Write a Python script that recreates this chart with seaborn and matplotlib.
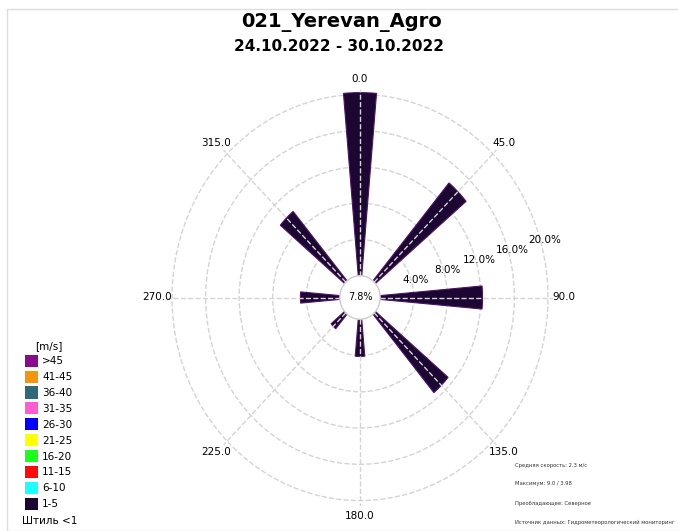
import numpy as np
import matplotlib
matplotlib.use("Agg")
import matplotlib.pyplot as plt
import seaborn as sns
from matplotlib.patches import Patch, Rectangle

# === DATOS ===
directions = [0, 45, 90, 135, 180, 225, 270, 315]
freq_1_5 = [20.2, 14.1, 12.2, 11.3, 4.1, 2.1, 4.7, 10.0]
calm_pct = 7.8
ring_ticks = [4, 8, 12, 16, 20]
theta_labels = ["0.0", "45.0", "90.0", "135.0", "180.0", "225.0", "270.0", "315.0"]

speed_bins = [">45", "41-45", "36-40", "31-35", "26-30", "21-25", "16-20", "11-15", "6-10", "1-5"]
bin_colors = ["#8b0a8b", "#f5960a", "#2f6878", "#ff5ccf", "#0000ff",
              "#ffff00", "#1aff1a", "#ff0a0a", "#1affff", "#1c0632"]

info_lines = [
    "Средняя скорость: 2.3 м/с",
    "Максимум: 9.0 / 3.98",
    "Преобладающее: Северное",
    "Источник данных: Гидрометеорологический мониторинг",
]

# === FIGURA ===
sns.set_style("white")
plt.rcParams["font.family"] = ["DejaVu Sans"]
plt.rcParams["text.color"] = "black"
plt.rcParams["xtick.color"] = "black"
plt.rcParams["ytick.color"] = "black"

fig = plt.figure(figsize=(6.78, 5.31), dpi=100)
fig.patches.append(Rectangle((7 / 678, 0), 1, 1 - 9 / 531, transform=fig.transFigure,
                             fill=False, edgecolor="#dddddd", lw=1.0))

ax = fig.add_axes([167 / 678, 25 / 531, 386 / 678, 417 / 531], projection="polar")
ax.set_aspect("auto")
ax.set_theta_zero_location("N")
ax.set_theta_direction(-1)
ax.set_rorigin(-2.4)
ax.set_ylim(0, 20.6)

theta = np.deg2rad(directions)
ax.bar(theta, freq_1_5, width=np.deg2rad(10), bottom=0,
       color=bin_colors[-1], edgecolor="#4e1266", linewidth=0.8, zorder=2)

# anillos por debajo de las barras, radios por encima
ax.yaxis.set_zorder(1)
ax.xaxis.set_zorder(3)
ax.set_xticks(theta)
ax.set_xticklabels(theta_labels, fontsize=7.5)
ax.set_yticks(ring_ticks)
ax.set_yticklabels([])
ax.grid(True, color="#d4d4d4", linestyle="--", linewidth=1.0)
ax.spines["polar"].set_visible(False)
ax.spines["inner"].set_color("#cccccc")
ax.spines["inner"].set_linewidth(1.0)
ax.tick_params(axis="x", length=0, pad=0.5)
ax.tick_params(axis="y", length=0)

# etiquetas de los anillos
for t in ring_ticks:
    ax.text(np.deg2rad(74), t + 0.45, f"{t:.1f}%", ha="center", va="center", fontsize=7.5, zorder=5)

ax.text(0.5, 0.5, f"{calm_pct}%", transform=ax.transAxes, ha="center", va="center",
        fontsize=7, zorder=5)

# === TITULOS ===
fig.text(0.503, 0.958, "021_Yerevan_Agro", ha="center", va="center", fontsize=14, fontweight="bold")
fig.text(0.500, 0.913, "24.10.2022 - 30.10.2022", ha="center", va="center", fontsize=11, fontweight="bold")

# === LEYENDA ===
handles = [Patch(facecolor=c, edgecolor="none") for c in bin_colors]
leg = fig.legend(handles, speed_bins, title="[m/s]", loc="lower left",
                 bbox_to_anchor=(18 / 678, 14 / 531), frameon=False, fontsize=7.5,
                 title_fontsize=7.5, handlelength=1.25, handleheight=1.4,
                 handletextpad=0.35, labelspacing=0.37, borderpad=0.2)
fig.text(22 / 678, 1 - 521 / 531, "Штиль <1", ha="left", va="center", fontsize=7.5)

# === INFO ===
for i, line in enumerate(info_lines):
    fig.text(515 / 678, 1 - [466, 483, 503, 522][i] / 531, line, ha="left", va="center",
             fontsize=3.8, color="#333333")

fig.savefig("out.png", dpi=100)
plt.close(fig)
